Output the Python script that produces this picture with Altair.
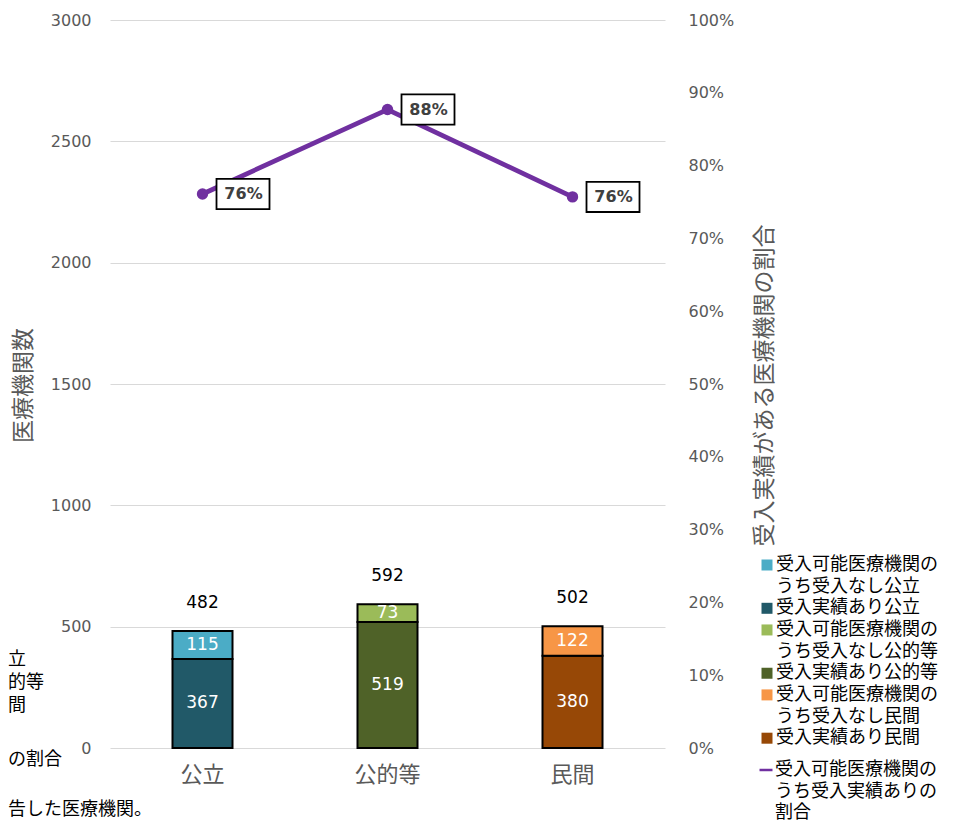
import altair as alt
import pandas as pd

# ---- data ----
categories = ["公立", "公的等", "民間"]
no_record = [115, 73, 122]
with_record = [367, 519, 380]
totals = [482, 592, 502]
ratio = [0.761, 0.877, 0.757]
ratio_labels = ["76%", "88%", "76%"]
series_no = ["受入可能医療機関のうち受入なし公立",
             "受入可能医療機関のうち受入なし公的等",
             "受入可能医療機関のうち受入なし民間"]
series_no_cont = ["うち受入なし公立", "うち受入なし公的等", "うち受入なし民間"]
series_with = ["受入実績あり公立", "受入実績あり公的等", "受入実績あり民間"]
line_name = "受入可能医療機関のうち受入実績ありの割合"
line_cont = ["うち受入実績ありの", "割合"]
left_title = "医療機関数"
right_title = "受入実績がある医療機関の割合"
left_ticks = [0, 500, 1000, 1500, 2000, 2500, 3000]
right_ticks = [0, 0.1, 0.2, 0.3, 0.4, 0.5, 0.6, 0.7, 0.8, 0.9, 1.0]
fragments = ["立", "的等", "間", "の割合", "告した医療機関。"]

# ---- styles ----
colors_no = ["#4BACC6", "#9BBB59", "#F79646"]
colors_with = ["#215968", "#4F6228", "#974806"]
line_color = "#7030A0"
CLEAR = "rgba(0,0,0,0)"
JP = "Noto Sans CJK JP"
NUM = "DejaVu Sans"
GRAY = "#595959"

rows = []
for i, c in enumerate(categories):
    rows.append(dict(cat=c, series=series_with[i], value=with_record[i], order=0,
                     mid=with_record[i] / 2))
    rows.append(dict(cat=c, series=series_no[i], value=no_record[i], order=1,
                     mid=with_record[i] + no_record[i] / 2))
bars_df = pd.DataFrame(rows)
tot_df = pd.DataFrame(dict(cat=categories, total=totals))
line_df = pd.DataFrame(dict(cat=categories, ratio=ratio, label=ratio_labels,
                            name=[line_name] * 3))

domain = []
rng = []
for i in range(3):
    domain += [series_no[i], series_no_cont[i], series_with[i]]
    rng += [colors_no[i], CLEAR, colors_with[i]]

first_line = ("indexof(datum.label, 'うち') > 0 ? "
              "slice(datum.label, 0, indexof(datum.label, 'うち')) : datum.label")

xscale = alt.Scale(domain=categories, paddingInner=0, paddingOuter=0)
xaxis = alt.X("cat:N", sort=categories, title=None, scale=xscale,
              axis=alt.Axis(labelFont=JP, labelFontSize=22, labelColor=GRAY,
                            labelAngle=0, labelPadding=16, ticks=False, domain=False,
                            grid=False))
xplain = alt.X("cat:N", sort=categories, title=None, scale=xscale)

yleft = alt.Scale(domain=[0, 3000])
yright = alt.Scale(domain=[0, 1])

bars = alt.Chart(bars_df).mark_bar(size=60, stroke="black", strokeWidth=2).encode(
    x=xaxis,
    y=alt.Y("value:Q", stack="zero", scale=yleft, title=left_title,
            axis=alt.Axis(values=left_ticks, format="d",
                          labelFont=NUM, labelFontSize=16, labelColor=GRAY,
                          labelPadding=19, ticks=False, domain=False,
                          gridColor="#D9D9D9", gridWidth=1.2,
                          titleFont=JP, titleFontSize=23, titleColor=GRAY,
                          titleFontWeight="normal", titleAngle=270,
                          titleX=-87, titleY=365, titleAlign="center",
                          titleBaseline="middle")),
    color=alt.Color("series:N", scale=alt.Scale(domain=domain, range=rng),
                    legend=alt.Legend(title=None, orient="none", legendX=648, legendY=536,
                                      padding=0, labelExpr=first_line,
                                      labelFont=JP, labelFontSize=18, labelColor="black",
                                      labelLimit=400, symbolType="square", symbolSize=121,
                                      symbolStrokeWidth=0, rowPadding=3.65, labelOffset=0)),
    order=alt.Order("order:Q"),
)

seg_text = alt.Chart(bars_df).mark_text(font=NUM, fontSize=17, color="white",
                                        baseline="middle").encode(
    x=xplain,
    y=alt.Y("mid:Q", scale=yleft, title=left_title),
    text="value:Q",
)

tot_text = alt.Chart(tot_df).mark_text(font=NUM, fontSize=17, color="black",
                                       baseline="middle", dy=-28).encode(
    x=xplain,
    y=alt.Y("total:Q", scale=yleft, title=left_title),
    text="total:Q",
)

frag_layers = []
frag_pos = [660, 683, 706, 760, 810]
for t, py in zip(fragments, frag_pos):
    frag_layers.append(
        alt.Chart(tot_df).mark_text(font=JP, fontSize=18, color="black", align="left",
                                    baseline="middle", text=t).encode(
            x=alt.value(-102), y=alt.value(py - 20))
        .transform_filter("datum.cat == '公立'")
    )

left = alt.layer(bars, seg_text, tot_text, *frag_layers)

line = alt.Chart(line_df).mark_line(strokeWidth=4.8).encode(
    x=xplain,
    y=alt.Y("ratio:Q", scale=yright, title=right_title,
            axis=alt.Axis(orient="right", values=right_ticks, format=".0%",
                          labelFont=NUM, labelFontSize=16, labelColor=GRAY,
                          labelPadding=23, ticks=False, domain=False, grid=False,
                          titleFont=JP, titleFontSize=23, titleColor=GRAY,
                          titleFontWeight="normal", titleAngle=270,
                          titleX=99, titleY=365, titleAlign="center",
                          titleBaseline="middle")),
    stroke=alt.Stroke("name:N",
                      scale=alt.Scale(domain=[line_name] + line_cont,
                                      range=[line_color, CLEAR, CLEAR]),
                      legend=alt.Legend(title=None, orient="none", legendX=647, legendY=741,
                                        padding=0, labelExpr=first_line,
                                        labelFont=JP, labelFontSize=18, labelColor="black",
                                        labelLimit=400, symbolType="stroke", symbolSize=169,
                                        symbolStrokeWidth=2.5, rowPadding=3.65, labelOffset=0)),
)

pts = alt.Chart(line_df).mark_point(filled=True, size=130, color=line_color, opacity=1).encode(
    x=xplain,
    y=alt.Y("ratio:Q", scale=yright, title=right_title),
)

box_path = "M0.418,-0.45 L2,-0.45 L2,0.45 L0.418,0.45 Z"
boxes = alt.Chart(line_df).mark_point(shape=box_path, size=4489, filled=True, fill="white",
                                      stroke="black", strokeWidth=1.8, opacity=1).encode(
    x=xplain,
    y=alt.Y("ratio:Q", scale=yright, title=right_title),
)

labels = alt.Chart(line_df).mark_text(font=NUM, fontSize=16, fontWeight="bold",
                                      color="#404040", dx=41, baseline="middle").encode(
    x=xplain,
    y=alt.Y("ratio:Q", scale=yright, title=right_title),
    text="label:N",
)

right = alt.layer(line, pts, boxes, labels)

chart = (alt.layer(left, right)
         .resolve_scale(y="independent", color="independent")
         .properties(
             width=555, height=728,
             autosize=alt.AutoSizeParams(type="none"),
             padding={"left": 102, "top": 12, "right": 280, "bottom": 74},
         )
         .configure_view(strokeWidth=0))

chart.save("out.html", embed_options={"renderer": "svg", "actions": False})
